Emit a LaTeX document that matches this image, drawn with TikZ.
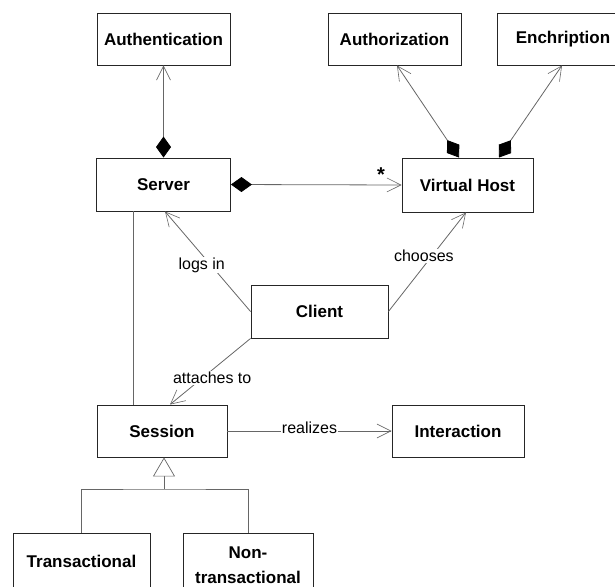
\documentclass[tikz,border=0pt]{standalone}
\usepackage{fontspec}
\setmainfont{Liberation Sans}
\usetikzlibrary{arrows.meta}

\begin{document}
\begin{tikzpicture}[x=1pt,y=-1pt,
	cls/.style={draw=black!85, line width=0.9pt, fill=white, minimum width=132pt, minimum height=52pt, inner sep=2pt, align=center, font=\fontsize{17}{25}\selectfont\bfseries},
	line/.style={draw=black!60, line width=0.8pt},
	lbl/.style={fill=white, inner sep=1pt, font=\fontsize{16}{18}\selectfont},
	navig/.style={-{Straight Barb[length=14pt,width=14pt,line width=0.6pt]}},
	comp/.style={{Diamond[length=21pt,width=15pt,black]}-{Straight Barb[length=14pt,width=14pt,line width=0.6pt]}},
	gen/.style={-{Triangle[open,length=19pt,width=22pt,fill=white,line width=0.7pt]}}]
		\useasboundingbox (0,0) rectangle (615,586);
		%%%%%%%%%%%%%
		\node[cls, minimum width=133pt] (auth) at (163.5,39) {Authentication};
		\node[cls, minimum width=133pt] (authz) at (394.5,39) {Authorization};
		\node[cls] (enc) at (563,39) {Enchription};
		\node[cls, minimum width=134pt, minimum height=53pt] (server) at (163.5,184.5) {Server};
		\node[cls, minimum width=131pt, minimum height=54pt] (vhost) at (467.5,185) {Virtual Host};
		\node[cls, minimum width=137pt, minimum height=53pt] (client) at (319.5,311.5) {Client};
		\node[cls, minimum width=130pt] (session) at (162,431) {Session};
		\node[cls] (interact) at (458,431) {Interaction};
		\node[cls, minimum width=137pt, minimum height=56pt] (trans) at (81.5,561) {Transactional};
		\node[cls, minimum width=130pt, minimum height=64pt] (nontrans) at (248,565) {Non-\\transactional};
		%%%%%%%%%%%%%
		\draw[line, comp] (server.north) -- (auth.south);
		\draw[line, comp] (server.east) -- node[pos=0.88, above=0pt, font=\fontsize{20}{20}\selectfont\bfseries] {*} (vhost.west);
		\draw[line, comp] ([xshift=-8.5pt]vhost.north) -- ([xshift=2.5pt]authz.south);
		\draw[line, comp] ([xshift=31.5pt]vhost.north) -- ([xshift=-1pt]enc.south);
		\draw[line, navig] (client.west) -- node[lbl, pos=0.465, xshift=-9pt] {logs in} ([xshift=1.5pt]server.south);
		\draw[line, navig] (client.east) -- node[lbl, pos=0.56, xshift=-8pt] {chooses} ([xshift=-1.5pt]vhost.south);
		\draw[line, navig] (client.south west) -- node[lbl, pos=0.6, xshift=10pt] {attaches to} ([xshift=8pt]session.north);
		\draw[line] ([xshift=-30.5pt]server.south) -- ([xshift=-30.5pt]server.south |- session.north);
		\draw[line, navig] (session.east) -- node[lbl, yshift=3pt] {realizes} (interact.west);
		%%%%%%%%%%%%%
		\coordinate (split) at (164,489);
		\draw[line, gen] (split) -- ([xshift=2pt]session.south);
		\draw[line] (trans.north) |- (split) -| (nontrans.north);
	\end{tikzpicture}
\end{document}
